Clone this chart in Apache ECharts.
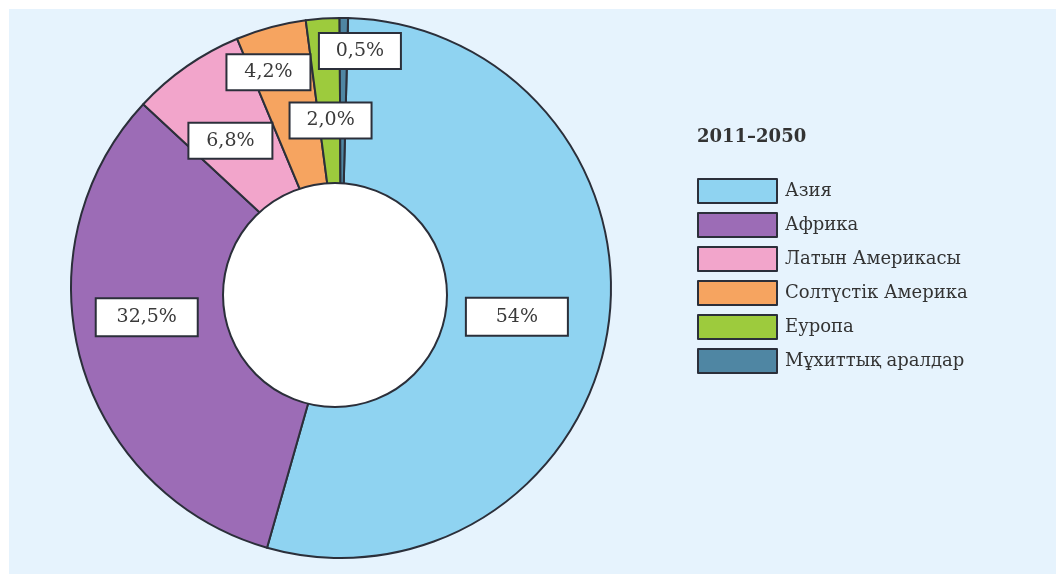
<!DOCTYPE html>
<html>
<head>
<meta charset="utf-8">
<script src="https://cdn.jsdelivr.net/npm/echarts@6/dist/echarts.min.js"></script>
<style>
  html, body { margin: 0; padding: 0; background: #ffffff; }
  #chart { position: absolute; left: 9px; top: 9px; width: 1047px; height: 565px; }
</style>
</head>
<body>
<div id="chart"></div>
<script>
// regions and shares (2011-2050)
var regions = ['Азия', 'Африка', 'Латын Америкасы', 'Солтүстік Америка', 'Еуропа', 'Мұхиттық аралдар']
var shares = [54, 32.5, 6.8, 4.2, 2.0, 0.5]
var shareLabels = ['54%', '32,5%', '6,8%', '4,2%', '2,0%', '0,5%']
var colors = ['#8fd3f1', '#9c6cb6', '#f2a5cb', '#f6a460', '#9dcb3d', '#4f86a3']

var chart = echarts.init(document.getElementById('chart'))

var serif = '"DejaVu Serif", "Liberation Serif", serif'
var center = [332, 279]

// label nudges so the small slices' boxes sit where the picture has them
var labelOffsets = [[-5, 1], [-18, -20], [-6, 3], [-25, -39], [2, 15], [17, -54]]
var labelWidths = [100, 100, 82, 82, 80, 80]

var fillData = regions.map(function (name, i) {
  return { name: name, value: shares[i], itemStyle: { color: colors[i] } }
})
var labelData = regions.map(function (name, i) {
  return {
    name: name,
    value: shares[i],
    label: {
      formatter: shareLabels[i],
      offset: labelOffsets[i],
      width: labelWidths[i],
      height: i < 2 ? 36 : 34,
      lineHeight: i < 2 ? 36 : 34
    }
  }
})

chart.setOption({
  backgroundColor: '#e6f3fd',
  color: colors,
  title: {
    text: '2011–2050',
    left: 683,
    top: 114,
    textStyle: { fontFamily: serif, fontSize: 18, fontWeight: 'bold', color: '#333' }
  },
  legend: {
    orient: 'vertical',
    left: 683,
    top: 164,
    itemWidth: 79,
    itemHeight: 24,
    itemGap: 8,
    icon: 'rect',
    data: regions,
    itemStyle: { borderColor: '#2b2f3a', borderWidth: 2 },
    textStyle: { fontFamily: serif, fontSize: 18, color: '#333', lineHeight: 24, padding: [0, 0, 0, 3] }
  },
  series: [
    {
      type: 'pie',
      center: center,
      radius: [0, 270],
      startAngle: 88.5,
      silent: true,
      label: { show: false },
      labelLine: { show: false },
      itemStyle: { borderColor: '#2b2f3a', borderWidth: 2 },
      data: fillData,
      z: 1
    },
    {
      // white hole, slightly off the pie centre as in the picture
      type: 'pie',
      center: [326, 286],
      radius: [0, 112],
      silent: true,
      legendHoverLink: false,
      label: { show: false },
      labelLine: { show: false },
      itemStyle: { color: '#ffffff', borderColor: '#2b2f3a', borderWidth: 2 },
      data: [{ name: '', value: 1 }],
      z: 2
    },
    {
      // label carrier only
      type: 'pie',
      center: center,
      radius: [90, 270],
      startAngle: 88.5,
      silent: true,
      itemStyle: { color: 'rgba(0,0,0,0)', borderWidth: 0 },
      labelLine: { show: false },
      label: {
        show: true,
        position: 'inside',
        fontFamily: serif,
        fontSize: 19,
        color: '#3a3a3a',
        backgroundColor: '#ffffff',
        borderColor: '#2b2f3a',
        borderWidth: 2,
        align: 'center',
        verticalAlign: 'middle'
      },
      data: labelData,
      z: 3
    }
  ]
})
</script>
</body>
</html>
